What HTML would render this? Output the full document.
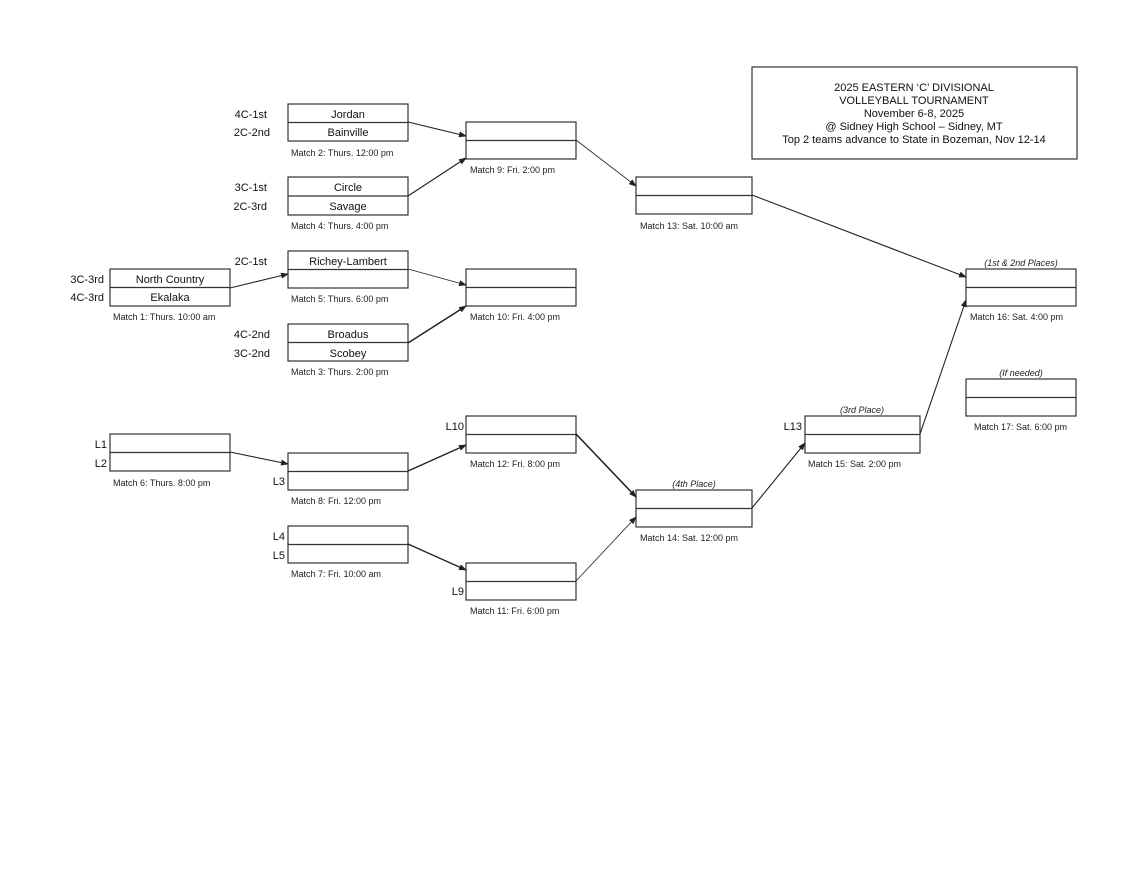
<!DOCTYPE html>
<html><head><meta charset="utf-8"><style>
html,body{margin:0;padding:0;background:#fff;}
svg{display:block;font-family:"Liberation Sans",Arial,sans-serif;}
.b{fill:none;stroke:#333;stroke-width:1.2}
.t{font-size:11px;fill:#111}
.c{font-size:9px;fill:#222}
.i{font-size:9px;fill:#222;font-style:italic}
.a{stroke:#222;stroke-width:1.1;fill:none;marker-end:url(#ah)}
</style></head><body>
<svg width="1138" height="878" viewBox="0 0 1138 878">
<defs><marker id="ah" markerWidth="8" markerHeight="6" refX="7" refY="3" orient="auto" markerUnits="userSpaceOnUse"><path d="M0,0 L8,3 L0,6 z" fill="#222"/></marker></defs>
<rect width="1138" height="878" fill="#fff"/>

<!-- title -->
<rect class="b" x="752" y="67" width="325" height="92"/>
<g class="t" text-anchor="middle">
<text x="914" y="91">2025 EASTERN ‘C’ DIVISIONAL</text>
<text x="914" y="104">VOLLEYBALL TOURNAMENT</text>
<text x="914" y="117">November 6-8, 2025</text>
<text x="914" y="130">@ Sidney High School – Sidney, MT</text>
<text x="914" y="143">Top 2 teams advance to State in Bozeman, Nov 12-14</text>
</g>

<!-- boxes -->
<g class="b">
<rect x="288" y="104" width="120" height="37"/><line x1="288" y1="122.5" x2="408" y2="122.5"/>
<rect x="466" y="122" width="110" height="37"/><line x1="466" y1="140.5" x2="576" y2="140.5"/>
<rect x="288" y="177" width="120" height="38"/><line x1="288" y1="196" x2="408" y2="196"/>
<rect x="288" y="251" width="120" height="37"/><line x1="288" y1="269.5" x2="408" y2="269.5"/>
<rect x="110" y="269" width="120" height="37"/><line x1="110" y1="287.5" x2="230" y2="287.5"/>
<rect x="466" y="269" width="110" height="37"/><line x1="466" y1="287.5" x2="576" y2="287.5"/>
<rect x="288" y="324" width="120" height="37"/><line x1="288" y1="342.5" x2="408" y2="342.5"/>
<rect x="636" y="177" width="116" height="37"/><line x1="636" y1="195.5" x2="752" y2="195.5"/>
<rect x="966" y="269" width="110" height="37"/><line x1="966" y1="287.5" x2="1076" y2="287.5"/>
<rect x="966" y="379" width="110" height="37"/><line x1="966" y1="397.5" x2="1076" y2="397.5"/>
<rect x="805" y="416" width="115" height="37"/><line x1="805" y1="434.5" x2="920" y2="434.5"/>
<rect x="636" y="490" width="116" height="37"/><line x1="636" y1="508.5" x2="752" y2="508.5"/>
<rect x="466" y="416" width="110" height="37"/><line x1="466" y1="434.5" x2="576" y2="434.5"/>
<rect x="110" y="434" width="120" height="37"/><line x1="110" y1="452.5" x2="230" y2="452.5"/>
<rect x="288" y="453" width="120" height="37"/><line x1="288" y1="471.5" x2="408" y2="471.5"/>
<rect x="288" y="526" width="120" height="37"/><line x1="288" y1="544.5" x2="408" y2="544.5"/>
<rect x="466" y="563" width="110" height="37"/><line x1="466" y1="581.5" x2="576" y2="581.5"/>
</g>

<!-- team names -->
<g class="t" text-anchor="middle">
<text x="348" y="118">Jordan</text><text x="348" y="136">Bainville</text>
<text x="348" y="191">Circle</text><text x="348" y="210">Savage</text>
<text x="348" y="265">Richey-Lambert</text>
<text x="170" y="283">North Country</text><text x="170" y="301">Ekalaka</text>
<text x="348" y="338">Broadus</text><text x="348" y="357">Scobey</text>
</g>
<g class="t" text-anchor="end">
<text x="267" y="118">4C-1st</text><text x="270" y="136">2C-2nd</text>
<text x="267" y="191">3C-1st</text><text x="267" y="210">2C-3rd</text>
<text x="267" y="265">2C-1st</text>
<text x="104" y="283">3C-3rd</text><text x="104" y="301">4C-3rd</text>
<text x="270" y="338">4C-2nd</text><text x="270" y="357">3C-2nd</text>
<text x="107" y="448">L1</text><text x="107" y="467">L2</text>
<text x="285" y="485">L3</text>
<text x="285" y="540">L4</text><text x="285" y="559">L5</text>
<text x="464" y="430">L10</text>
<text x="464" y="595">L9</text>
<text x="802" y="430">L13</text>
</g>

<!-- captions -->
<g class="c">
<text x="291" y="156">Match 2: Thurs. 12:00 pm</text>
<text x="470" y="173">Match 9: Fri. 2:00 pm</text>
<text x="291" y="229">Match 4: Thurs. 4:00 pm</text>
<text x="640" y="229">Match 13: Sat. 10:00 am</text>
<text x="291" y="302">Match 5: Thurs. 6:00 pm</text>
<text x="113" y="320">Match 1: Thurs. 10:00 am</text>
<text x="470" y="320">Match 10: Fri. 4:00 pm</text>
<text x="970" y="320">Match 16: Sat. 4:00 pm</text>
<text x="291" y="375">Match 3: Thurs. 2:00 pm</text>
<text x="974" y="430">Match 17: Sat. 6:00 pm</text>
<text x="470" y="467">Match 12: Fri. 8:00 pm</text>
<text x="808" y="467">Match 15: Sat. 2:00 pm</text>
<text x="113" y="486">Match 6: Thurs. 8:00 pm</text>
<text x="291" y="504">Match 8: Fri. 12:00 pm</text>
<text x="640" y="541">Match 14: Sat. 12:00 pm</text>
<text x="291" y="577">Match 7: Fri. 10:00 am</text>
<text x="470" y="614">Match 11: Fri. 6:00 pm</text>
</g>
<g class="i" text-anchor="middle">
<text x="1021" y="266">(1st &amp; 2nd Places)</text>
<text x="1021" y="376">(If needed)</text>
<text x="862" y="413">(3rd Place)</text>
<text x="694" y="487">(4th Place)</text>
</g>

<!-- connectors -->
<path class="a" d="M408,122 L466,136"/>
<path class="a" d="M408,196 L466,158"/>
<path class="a" d="M230,288 L288,274"/>
<path class="a" d="M408,269 L466,285" style="stroke-width:0.8"/>
<path class="a" d="M408,343 L466,306" style="stroke-width:1.5"/>
<path class="a" d="M576,140 L636,186" style="stroke-width:0.8"/>
<path class="a" d="M752,195 L966,277"/>
<path class="a" d="M920,434 L966,300"/>
<path class="a" d="M752,508 L805,443"/>
<path class="a" d="M576,434 L636,497" style="stroke-width:1.6"/>
<path class="a" d="M576,581 L636,517" style="stroke-width:0.8"/>
<path class="a" d="M230,452 L288,464"/>
<path class="a" d="M408,471 L466,445" style="stroke-width:1.4"/>
<path class="a" d="M408,544 L466,570" style="stroke-width:1.3"/>
</svg>
</body></html>
